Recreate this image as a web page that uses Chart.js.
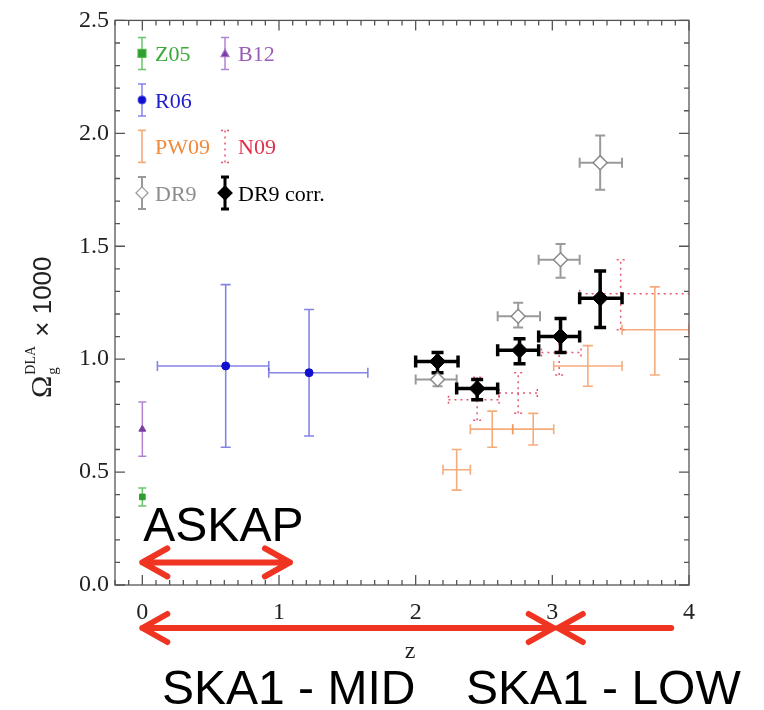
<!DOCTYPE html>
<html>
<head>
  <title>Omega_g DLA vs redshift</title>
  <style>
    body { margin: 0; background: #fff; }
    canvas { display: block; }
  </style>
</head>
<body>
  <canvas id="chart" width="764" height="710"></canvas>

  <script src="https://cdn.jsdelivr.net/npm/chart.js"></script>
  <script>
    // tick labels
    const xTicks = [0, 1, 2, 3, 4];
    const yTicks = [0.0, 0.5, 1.0, 1.5, 2.0, 2.5];

    // Z05
    const z05Z = [0.0], z05Y = [0.39], z05YLo = [0.35], z05YHi = [0.43];
    // B12
    const b12Z = [0.0], b12Y = [0.69], b12YLo = [0.57], b12YHi = [0.81];
    // R06
    const r06Z = [0.61, 1.22], r06ZLo = [0.11, 0.925], r06ZHi = [0.925, 1.65];
    const r06Y = [0.97, 0.94], r06YLo = [0.61, 0.66], r06YHi = [1.33, 1.22];
    // PW09
    const pw09Z = [2.30, 2.56, 2.86, 3.26, 3.75], pw09ZLo = [2.20, 2.40, 2.71, 3.01, 3.51], pw09ZHi = [2.40, 2.71, 3.01, 3.51, 4.0];
    const pw09Y = [0.51, 0.69, 0.69, 0.97, 1.13], pw09YLo = [0.42, 0.61, 0.62, 0.88, 0.93], pw09YHi = [0.60, 0.77, 0.76, 1.06, 1.32];
    // N09
    const n09Z = [2.45, 2.75, 3.05, 3.50], n09ZLo = [2.24, 2.61, 2.92, 3.20], n09ZHi = [2.61, 2.89, 3.21, 4.1];
    const n09Y = [0.82, 0.85, 1.03, 1.29], n09YLo = [0.73, 0.76, 0.93, 1.13], n09YHi = [0.92, 0.94, 1.10, 1.44];
    // DR9
    const dr9Z = [2.16, 2.75, 3.06, 3.35], dr9ZLo = [2.0, 2.60, 2.90, 3.20], dr9ZHi = [2.30, 2.91, 3.20, 3.51];
    const dr9Y = [0.91, 1.19, 1.44, 1.87], dr9YLo = [0.88, 1.14, 1.36, 1.75], dr9YHi = [0.94, 1.25, 1.51, 1.99];
    // DR9 corr.
    const corrZ = [2.16, 2.45, 2.76, 3.06, 3.35], corrZLo = [2.0, 2.30, 2.60, 2.90, 3.20], corrZHi = [2.31, 2.60, 2.90, 3.20, 3.51];
    const corrY = [0.99, 0.87, 1.04, 1.10, 1.27], corrYLo = [0.94, 0.82, 0.98, 1.03, 1.14], corrYHi = [1.03, 0.91, 1.09, 1.18, 1.39];

    const serif = '"Liberation Serif", "DejaVu Serif", serif';
    const sans = '"Liberation Sans", Arial, sans-serif';

    function pts(zs, ys) {
      return zs.map((z, i) => ({ x: z, y: ys[i] }));
    }

    function series(label, zs, ys, err, style) {
      return Object.assign({
        label: label,
        data: pts(zs, ys),
        err: {
          zLo: err.zLo || zs, zHi: err.zHi || zs,
          yLo: err.yLo, yHi: err.yHi
        },
        showLine: false
      }, style);
    }

    const datasets = [
      series('N09', n09Z, n09Y, { zLo: n09ZLo, zHi: n09ZHi, yLo: n09YLo, yHi: n09YHi },
        { pointRadius: 0, barColor: 'rgba(225,60,85,0.85)', barWidth: 1.5, cap: 4, dash: [2, 4] }),
      series('PW09', pw09Z, pw09Y, { zLo: pw09ZLo, zHi: pw09ZHi, yLo: pw09YLo, yHi: pw09YHi },
        { pointRadius: 0, barColor: 'rgba(242,150,90,0.8)', barWidth: 1.6, cap: 5 }),
      series('Z05', z05Z, z05Y, { yLo: z05YLo, yHi: z05YHi },
        { pointStyle: 'rect', pointRadius: 4, backgroundColor: '#2f9e2f', borderColor: '#2f9e2f',
          barColor: 'rgba(70,180,70,0.8)', barWidth: 1.5, cap: 4 }),
      series('B12', b12Z, b12Y, { yLo: b12YLo, yHi: b12YHi },
        { pointStyle: 'triangle', pointRadius: 4, backgroundColor: '#7a3c9e', borderColor: '#7a3c9e',
          barColor: 'rgba(160,100,200,0.8)', barWidth: 1.5, cap: 4 }),
      series('R06', r06Z, r06Y, { zLo: r06ZLo, zHi: r06ZHi, yLo: r06YLo, yHi: r06YHi },
        { pointStyle: 'circle', pointRadius: 4, backgroundColor: '#1010d0', borderColor: '#1010d0',
          barColor: 'rgba(80,80,220,0.7)', barWidth: 1.6, cap: 5 }),
      series('DR9', dr9Z, dr9Y, { zLo: dr9ZLo, zHi: dr9ZHi, yLo: dr9YLo, yHi: dr9YHi },
        { pointStyle: 'rectRot', pointRadius: 7, backgroundColor: '#fff', borderColor: '#8a8a8a', borderWidth: 1.5,
          barColor: '#9a9a9a', barWidth: 2, cap: 5 }),
      series('DR9 corr.', corrZ, corrY, { zLo: corrZLo, zHi: corrZHi, yLo: corrYLo, yHi: corrYHi },
        { pointStyle: 'rectRot', pointRadius: 8, backgroundColor: '#000', borderColor: '#000', borderWidth: 1,
          barColor: '#000', barWidth: 3.5, cap: 6 })
    ];

    // error bars drawn under the markers
    const errorBars = {
      id: 'errorBars',
      beforeDatasetsDraw(chart) {
        const { ctx, chartArea: a, scales: { x, y } } = chart;
        ctx.save();
        ctx.beginPath();
        ctx.rect(a.left, a.top, a.right - a.left, a.bottom - a.top);
        ctx.clip();
        chart.data.datasets.forEach(ds => {
          const e = ds.err;
          ctx.strokeStyle = ds.barColor;
          ctx.lineWidth = ds.barWidth;
          ctx.setLineDash(ds.dash || []);
          ds.data.forEach((p, i) => {
            const px = x.getPixelForValue(p.x), py = y.getPixelForValue(p.y);
            const x0 = x.getPixelForValue(e.zLo[i]), x1 = x.getPixelForValue(e.zHi[i]);
            const y0 = y.getPixelForValue(e.yLo[i]), y1 = y.getPixelForValue(e.yHi[i]);
            const c = ds.cap;
            ctx.beginPath();
            ctx.moveTo(px, y0); ctx.lineTo(px, y1);
            ctx.moveTo(px - c, y0); ctx.lineTo(px + c, y0);
            ctx.moveTo(px - c, y1); ctx.lineTo(px + c, y1);
            if (x1 - x0 > 1) {
              ctx.moveTo(x0, py); ctx.lineTo(x1, py);
              ctx.moveTo(x0, py - c); ctx.lineTo(x0, py + c);
              ctx.moveTo(x1, py - c); ctx.lineTo(x1, py + c);
            }
            ctx.stroke();
          });
        });
        ctx.restore();
      }
    };

    // box with inward major and minor ticks on all four sides
    const frame = {
      id: 'frame',
      afterDraw(chart) {
        const { ctx, chartArea: a, scales: { x, y } } = chart;
        ctx.save();
        ctx.strokeStyle = '#555';
        ctx.lineWidth = 1.3;
        ctx.strokeRect(a.left, a.top, a.right - a.left, a.bottom - a.top);
        ctx.beginPath();
        for (let k = -2; k <= 40; k++) {
          const px = x.getPixelForValue(k / 10);
          const len = k % 10 === 0 ? 10 : 5;
          ctx.moveTo(px, a.bottom); ctx.lineTo(px, a.bottom - len);
          ctx.moveTo(px, a.top); ctx.lineTo(px, a.top + len);
        }
        for (let k = 0; k <= 25; k++) {
          const py = y.getPixelForValue(k / 10);
          const len = k % 5 === 0 ? 10 : 5;
          ctx.moveTo(a.left, py); ctx.lineTo(a.left + len, py);
          ctx.moveTo(a.right, py); ctx.lineTo(a.right - len, py);
        }
        ctx.stroke();
        ctx.restore();
      }
    };

    function marker(ctx, type, cx, cy, r, fill, stroke) {
      ctx.beginPath();
      if (type === 'rect') ctx.rect(cx - r, cy - r, 2 * r, 2 * r);
      if (type === 'circle') ctx.arc(cx, cy, r, 0, Math.PI * 2);
      if (type === 'triangle') { ctx.moveTo(cx, cy - r); ctx.lineTo(cx + r, cy + r * 0.8); ctx.lineTo(cx - r, cy + r * 0.8); ctx.closePath(); }
      if (type === 'diamond') { ctx.moveTo(cx, cy - r); ctx.lineTo(cx + r, cy); ctx.lineTo(cx, cy + r); ctx.lineTo(cx - r, cy); ctx.closePath(); }
      ctx.fillStyle = fill; ctx.fill();
      ctx.strokeStyle = stroke; ctx.lineWidth = 1.3; ctx.stroke();
    }

    const legendItems = [
      { text: 'Z05', col: 0, row: 0, color: '#3aa83a', bar: 'rgba(70,180,70,0.8)', w: 1.5, m: 'rect', r: 4, fill: '#2f9e2f' },
      { text: 'B12', col: 1, row: 0, color: '#9a5cb8', bar: 'rgba(160,100,200,0.8)', w: 1.5, m: 'triangle', r: 4, fill: '#7a3c9e' },
      { text: 'R06', col: 0, row: 1, color: '#2020d0', bar: 'rgba(80,80,220,0.7)', w: 1.5, m: 'circle', r: 4, fill: '#1010d0' },
      { text: 'PW09', col: 0, row: 2, color: '#f08a3c', bar: 'rgba(242,150,90,0.8)', w: 1.6 },
      { text: 'N09', col: 1, row: 2, color: '#e0304a', bar: 'rgba(225,60,85,0.85)', w: 1.5, dash: [2, 4] },
      { text: 'DR9', col: 0, row: 3, color: '#8c8c8c', bar: '#9a9a9a', w: 2, m: 'diamond', r: 6, fill: '#fff' },
      { text: 'DR9 corr.', col: 1, row: 3, color: '#000', bar: '#000', w: 3, m: 'diamond', r: 7, fill: '#000' }
    ];

    const legendBox = {
      id: 'legendBox',
      afterDraw(chart) {
        const { ctx, chartArea: a } = chart;
        ctx.save();
        legendItems.forEach(it => {
          const gx = a.left + 27 + it.col * 83;
          const gy = a.top + 33 + it.row * 46.5;
          ctx.strokeStyle = it.bar;
          ctx.lineWidth = it.w;
          ctx.setLineDash(it.dash || []);
          ctx.beginPath();
          ctx.moveTo(gx, gy - 16); ctx.lineTo(gx, gy + 16);
          ctx.moveTo(gx - 4, gy - 16); ctx.lineTo(gx + 4, gy - 16);
          ctx.moveTo(gx - 4, gy + 16); ctx.lineTo(gx + 4, gy + 16);
          ctx.stroke();
          ctx.setLineDash([]);
          if (it.m) marker(ctx, it.m, gx, gy, it.r, it.fill, it.bar);
          ctx.fillStyle = it.color;
          ctx.font = '22px ' + serif;
          ctx.textBaseline = 'middle';
          ctx.textAlign = 'left';
          ctx.fillText(it.text, gx + 13, gy + 2);
        });
        ctx.restore();
      }
    };

    function arrow(ctx, xa, xb, yy, headA, headB) {
      const L = 25, H = 14;
      ctx.beginPath();
      ctx.moveTo(xa, yy); ctx.lineTo(xb, yy);
      const dir = xb > xa ? 1 : -1;
      if (headA) { ctx.moveTo(xa + dir * L, yy - H); ctx.lineTo(xa, yy); ctx.lineTo(xa + dir * L, yy + H); }
      if (headB) { ctx.moveTo(xb - dir * L, yy - H); ctx.lineTo(xb, yy); ctx.lineTo(xb - dir * L, yy + H); }
      ctx.stroke();
    }

    const titlesAndNotes = {
      id: 'titlesAndNotes',
      afterDraw(chart) {
        const { ctx, chartArea: a, scales: { x, y } } = chart;
        ctx.save();
        // y title
        ctx.translate(42, 318);
        ctx.rotate(-Math.PI / 2);
        ctx.fillStyle = '#222';
        ctx.textBaseline = 'alphabetic';
        ctx.textAlign = 'left';
        let cx = -80;
        ctx.font = '30px ' + serif;
        ctx.fillText('Ω', cx, 9);
        cx += ctx.measureText('Ω').width + 1;
        ctx.font = '15px ' + serif;
        ctx.fillText('g', cx, 15);
        ctx.font = '14px ' + serif;
        ctx.fillText('DLA', cx, -7);
        cx += ctx.measureText('DLA').width + 2;
        ctx.font = '26px ' + sans;
        ctx.fillText(' × 1000', cx, 9);
        ctx.restore();

        ctx.save();
        // x title
        ctx.fillStyle = '#222';
        ctx.font = '24px ' + serif;
        ctx.textAlign = 'center';
        ctx.textBaseline = 'alphabetic';
        ctx.fillText('z', (a.left + a.right) / 2 + 8, 658);

        // coverage arrows
        ctx.strokeStyle = '#ef3522';
        ctx.lineWidth = 6;
        ctx.lineCap = 'round';
        ctx.lineJoin = 'round';
        arrow(ctx, x.getPixelForValue(0), x.getPixelForValue(1.08), y.getPixelForValue(0.10), true, true);
        const yb = a.bottom + 43;
        arrow(ctx, x.getPixelForValue(0), x.getPixelForValue(3.01), yb, true, true);
        arrow(ctx, x.getPixelForValue(3.04), x.getPixelForValue(3.87), yb, true, false);

        ctx.fillStyle = '#000';
        ctx.font = '48px ' + sans;
        ctx.textAlign = 'left';
        ctx.fillText('ASKAP', x.getPixelForValue(0) + 1, 541);
        ctx.fillText('SKA1 - MID', 162, 704);
        ctx.fillText('SKA1 - LOW', 466, 704);
        ctx.restore();
      }
    };

    const chart = new Chart(document.getElementById('chart'), {
      type: 'scatter',
      data: { datasets: datasets },
      options: {
        responsive: false,
        animation: false,
        layout: { padding: { top: 12, right: 75, left: 0, bottom: 0 } },
        plugins: { legend: { display: false }, tooltip: { enabled: false } },
        scales: {
          x: {
            type: 'linear', min: -0.2, max: 4.0,
            grid: { display: false, drawTicks: false },
            border: { display: false },
            ticks: { color: '#222', font: { family: serif, size: 24 }, padding: 13, maxRotation: 0 },
            afterBuildTicks: s => { s.ticks = xTicks.map(v => ({ value: v })); },
            afterFit: s => { s.height = 125; }
          },
          y: {
            type: 'linear', min: 0, max: 2.5,
            grid: { display: false, drawTicks: false },
            border: { display: false },
            ticks: { color: '#222', font: { family: serif, size: 24 }, padding: 6, callback: v => v.toFixed(1) },
            afterBuildTicks: s => { s.ticks = yTicks.map(v => ({ value: v })); },
            afterFit: s => { s.width = 115; }
          }
        }
      },
      plugins: [errorBars, frame, legendBox, titlesAndNotes]
    });
  </script>
</body>
</html>
